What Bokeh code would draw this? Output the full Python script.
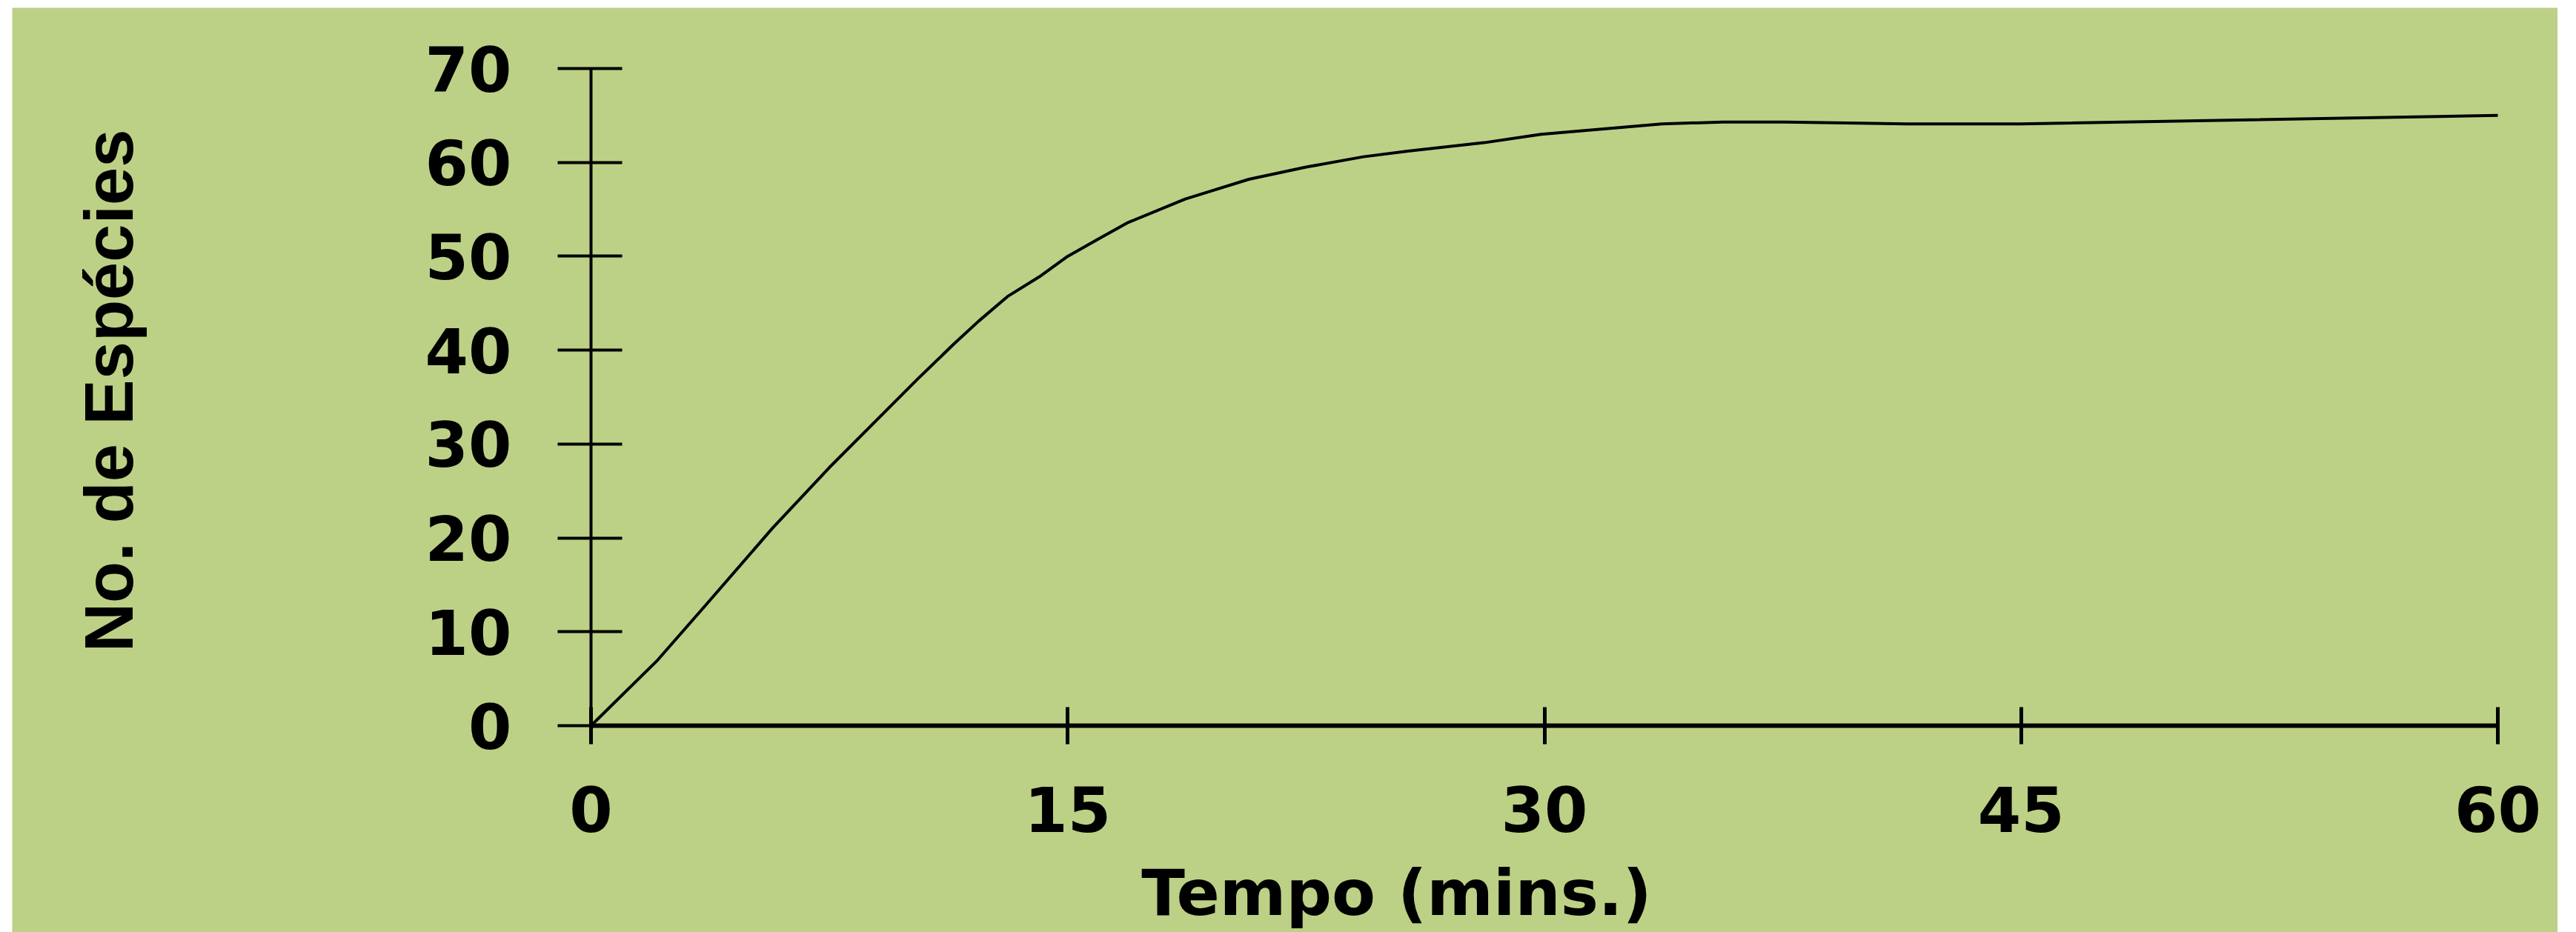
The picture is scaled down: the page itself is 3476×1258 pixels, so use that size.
import math
from bokeh.plotting import figure
from bokeh.models import Range1d, FixedTicker, Label
from bokeh.embed import file_html
from bokeh.resources import INLINE

# ---- data ----
minutes = [0, 2.1, 3.6, 5.7, 7.5, 10.3, 11.4, 12.2, 13.1, 14.1, 15.0, 16.0, 16.9,
           18.7, 20.7, 22.5, 24.3, 25.7, 28.1, 29.9, 33.7, 35.6, 37.6, 41.4, 45.0, 60.0]
species = [0, 7.0, 12.8, 21.0, 27.5, 37.0, 40.6, 43.1, 45.7, 47.8, 50.0, 51.9, 53.6,
           56.1, 58.2, 59.5, 60.6, 61.2, 62.1, 63.0, 64.1, 64.3, 64.3, 64.1, 64.1, 65.0]
x_ticks = [0, 15, 30, 45, 60]
y_ticks = [0, 10, 20, 30, 40, 50, 60, 70]
x_title = "Tempo  (mins.)"
y_title = "No. de Espécies"

BG = "#BCD186"
TICK_FONT = "DejaVu Sans"
YTITLE_FONT = "Liberation Sans"

# ---- layout (page pixels) ----
PAGE_LEFT, PAGE_TOP = 16, 10          # where the green panel starts
W, H = 3435, 1248                      # size of the green panel
AX_X0, AX_X1 = 797, 3370               # screen x of the axis ends (0 and 60 min)
AX_Y0, AX_Y1 = 979, 92                 # screen y of the axis ends (0 and 70)

x0, x1 = x_ticks[0], x_ticks[-1]
y0, y1 = y_ticks[0], y_ticks[-1]
kx = (AX_X1 - AX_X0) / (x1 - x0)
ky = (AX_Y0 - AX_Y1) / (y1 - y0)


def dx(px):
    return x0 + (px - AX_X0) / kx


def dy(py):
    return y0 + (AX_Y0 - py) / ky


# the plotting frame covers the whole panel; the axes are drawn at x = 0 and y = 0
p = figure(width=W, height=H, output_backend="svg", toolbar_location=None,
           x_range=Range1d(dx(PAGE_LEFT), dx(PAGE_LEFT + W)),
           y_range=Range1d(dy(PAGE_TOP + H), dy(PAGE_TOP)),
           min_border_left=0, min_border_right=0, min_border_top=0, min_border_bottom=0)
p.margin = (PAGE_TOP, 0, 0, PAGE_LEFT)
p.background_fill_color = BG
p.border_fill_color = BG
p.outline_line_color = None
p.xgrid.grid_line_color = None
p.ygrid.grid_line_color = None

xa = p.xaxis[0]
xa.fixed_location = y0
xa.bounds = (x0, x1)
xa.ticker = FixedTicker(ticks=x_ticks)
xa.axis_line_width = 6
xa.axis_line_color = "black"
xa.major_tick_in = 25
xa.major_tick_out = 25
xa.major_tick_line_width = 5
xa.minor_tick_line_color = None
xa.major_label_text_font = TICK_FONT
xa.major_label_text_font_size = "84px"
xa.major_label_text_font_style = "bold"
xa.major_label_text_color = "black"
xa.major_label_standoff = 56

ya = p.yaxis[0]
ya.fixed_location = x0
ya.bounds = (y0, y1)
ya.ticker = FixedTicker(ticks=y_ticks)
ya.axis_line_width = 4
ya.axis_line_color = "black"
ya.major_tick_in = 42
ya.major_tick_out = 45
ya.major_tick_line_width = 4
ya.minor_tick_line_color = None
ya.major_label_text_font = TICK_FONT
ya.major_label_text_font_size = "84px"
ya.major_label_text_font_style = "bold"
ya.major_label_text_color = "black"
ya.major_label_standoff = 62

p.line(minutes, species, line_color="black", line_width=4)

# axis titles
p.add_layout(Label(x=dx(146), y=dy(527), text=y_title, angle=math.pi / 2,
                   text_align="center", text_baseline="alphabetic",
                   text_font=YTITLE_FONT, text_font_size="92px",
                   text_font_style="bold", text_color="black"))
p.add_layout(Label(x=dx(1899), y=dy(1204), text=x_title,
                   text_align="center", text_baseline="alphabetic",
                   text_font=TICK_FONT, text_font_size="86px",
                   text_font_style="bold", text_color="black"))

open("out.html", "w").write(file_html(p, INLINE))
